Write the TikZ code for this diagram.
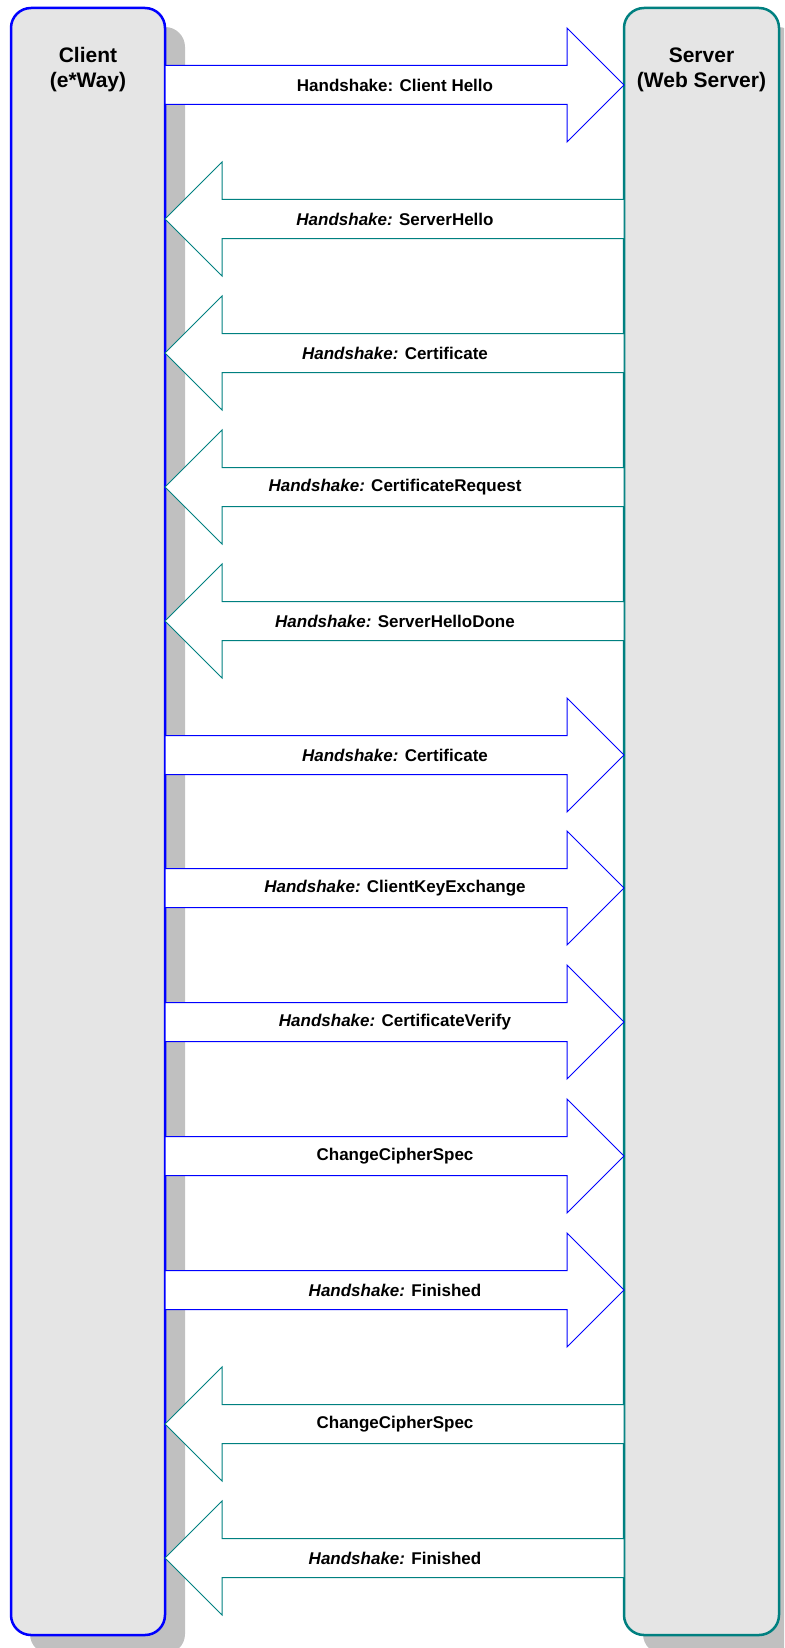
\documentclass[tikz,border=0pt]{standalone}
\usepackage{fontspec}
\setmainfont{Liberation Sans}
\definecolor{cblue}{RGB}{0,0,255}
\definecolor{cteal}{RGB}{0,128,128}
\definecolor{boxfill}{RGB}{229,229,229}
\definecolor{shadowc}{RGB}{192,192,192}
\tikzset{
  lifebox/.style={rounded corners=20pt, fill=boxfill, line width=2.5pt, minimum width=154pt, minimum height=1627pt, inner sep=0pt},
  shadowbox/.style={rounded corners=20pt, fill=shadowc, draw=none},
  title/.style={font=\fontsize{21}{25}\selectfont\bfseries, align=center, inner sep=0pt},
  msg/.style={font=\fontsize{17}{20}\selectfont\bfseries, inner sep=0pt},
  rarrow/.style={draw=cblue, fill=white, line width=1pt, line join=miter},
  larrow/.style={draw=cteal, fill=white, line width=1pt, line join=miter},
}
\newcommand\rmsg[3]{%
  \draw[rarrow] (165,#1-19.5) -- (567,#1-19.5) -- (567,#1-57) -- (624,#1) -- (567,#1+57) -- (567,#1+19.5) -- (165,#1+19.5) -- cycle;
  \node[msg] (#2) at (395,#1) {#3};
}
\newcommand\lmsg[3]{%
  \draw[larrow] (624,#1-19.5) -- (222,#1-19.5) -- (222,#1-57) -- (165,#1) -- (222,#1+57) -- (222,#1+19.5) -- (624,#1+19.5) -- cycle;
  \node[msg] (#2) at (395,#1) {#3};
}
\begin{document}
\begin{tikzpicture}[x=1pt,y=-1pt]
\useasboundingbox (0,0) rectangle (784,1648);
\clip (0,0) rectangle (784,1648);
% shadows
\fill[shadowbox] (30,27) rectangle (185,1654);
\fill[shadowbox] (643,27) rectangle (798,1654);
% lifelines
\node[lifebox, draw=cblue] (client) at (88,821.5) {};
\node[lifebox, draw=cteal, minimum width=155pt] (server) at (701.5,821.5) {};
\node[title] (clientlabel) at (88,69.5) {Client\\(e*Way)};
\node[title] (serverlabel) at (701.5,69.5) {Server\\(Web Server)};
% messages
\rmsg{85}{m1}{Handshake: Client Hello}
\lmsg{219}{m2}{\textit{Handshake:} ServerHello}
\lmsg{353}{m3}{\textit{Handshake:} Certificate}
\lmsg{487}{m4}{\textit{Handshake:} CertificateRequest}
\lmsg{621}{m5}{\textit{Handshake:} ServerHelloDone}
\rmsg{755}{m6}{\textit{Handshake:} Certificate}
\rmsg{888}{m7}{\textit{Handshake:} ClientKeyExchange}
\rmsg{1022}{m8}{\textit{Handshake:} CertificateVerify}
\rmsg{1156}{m9}{ChangeCipherSpec}
\rmsg{1290}{m10}{\textit{Handshake:} Finished}
\lmsg{1424}{m11}{ChangeCipherSpec}
\lmsg{1558}{m12}{\textit{Handshake:} Finished}
\end{tikzpicture}
\end{document}
